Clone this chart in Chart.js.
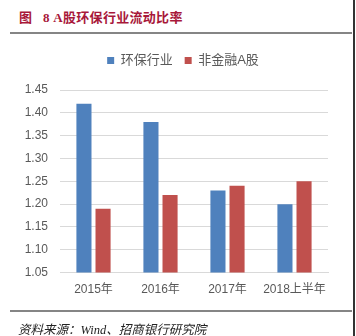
<!DOCTYPE html>
<html>
<head>
<meta charset="utf-8">
<script src="https://cdn.jsdelivr.net/npm/chart.js@4.4.1/dist/chart.umd.min.js"></script>
<style>
  html, body { margin: 0; padding: 0; background: #fff; }
  #wrap { position: relative; width: 356px; height: 336px; overflow: hidden; }
  #title {
    position: absolute; left: 19px; top: 7px;
    font: bold 13px "Liberation Serif", "Noto Sans CJK SC", serif;
    color: #a8183a; white-space: nowrap; letter-spacing: 0.3px;
  }
  .rule { position: absolute; left: 10px; width: 342px; height: 2px; background: #858585; }
  #edge { position: absolute; left: 353px; top: 0; width: 2px; height: 336px; background: #333; }
  #source {
    position: absolute; left: 18px; top: 319px;
    font: italic 12.5px "Liberation Serif", "Noto Sans CJK SC", serif;
    color: #222; white-space: nowrap;
  }
  #chartBox { position: absolute; left: 0; top: 40px; }
</style>
</head>
<body>
<div id="wrap">
  <div id="title">图&nbsp;&nbsp; 8 A股环保行业流动比率</div>
  <div class="rule" style="top:32px"></div>
  <div id="chartBox"><canvas id="myBarChart" width="356" height="272"></canvas></div>
  <div class="rule" style="top:310px"></div>
  <div id="source">资料来源：Wind、招商银行研究院</div>
  <div id="edge"></div>
</div>
<script>
const categories = ['2015年', '2016年', '2017年', '2018上半年'];
const envValues = [1.42, 1.38, 1.23, 1.20];      // 环保行业
const nonFinValues = [1.19, 1.22, 1.24, 1.25];   // 非金融A股
const yTicks = [1.05, 1.10, 1.15, 1.20, 1.25, 1.30, 1.35, 1.40, 1.45];

const baseFont = 'Liberation Sans, "Noto Sans CJK SC", sans-serif';

// legend: a bit right of centre, and more room below it
const legendTweak = {
    id: 'legendTweak',
    beforeInit: function (chart) {
        const origFit = chart.legend.fit;
        chart.legend.fit = function () {
            origFit.bind(chart.legend)();
            this.height += 13;
        };
    },
    afterLayout: function (chart) {
        chart.legend.left += 19;
        chart.legend.right += 19;
    }
};

const ctx = document.getElementById('myBarChart').getContext('2d');

new Chart(ctx, {
    type: 'bar',
    data: {
        labels: categories,
        datasets: [{
            label: '环保行业',
            data: envValues,
            backgroundColor: '#4f81bd',
            categoryPercentage: 0.57,
            barPercentage: 0.79
        }, {
            label: '非金融A股',
            data: nonFinValues,
            backgroundColor: '#c0504d',
            categoryPercentage: 0.57,
            barPercentage: 0.79
        }]
    },
    options: {
        responsive: false,
        devicePixelRatio: 1,
        animation: false,
        layout: {
            padding: { left: 0, right: 28, top: 2, bottom: 5 }
        },
        plugins: {
            legend: {
                position: 'top',
                labels: {
                    boxWidth: 7,
                    boxHeight: 7,
                    padding: 12,
                    color: '#595959',
                    font: { family: baseFont, size: 13 }
                }
            },
            tooltip: { enabled: false }
        },
        scales: {
            x: {
                grid: { display: false, drawTicks: false },
                border: { color: '#d9d9d9' },
                ticks: {
                    color: '#595959',
                    padding: 10,
                    maxRotation: 0,
                    font: { family: baseFont, size: 12 }
                }
            },
            y: {
                min: yTicks[0],
                max: yTicks[yTicks.length - 1],
                afterBuildTicks: function (scale) {
                    scale.ticks = yTicks.map(v => ({ value: v }));
                },
                afterFit: function (scale) {
                    scale.width = 60;
                },
                grid: { color: '#d9d9d9', drawTicks: false },
                border: { display: false },
                ticks: {
                    color: '#595959',
                    padding: 12,
                    font: { family: baseFont, size: 12 },
                    callback: function (v) { return Number(v).toFixed(2); }
                }
            }
        }
    },
    plugins: [legendTweak]
});
</script>
</body>
</html>
